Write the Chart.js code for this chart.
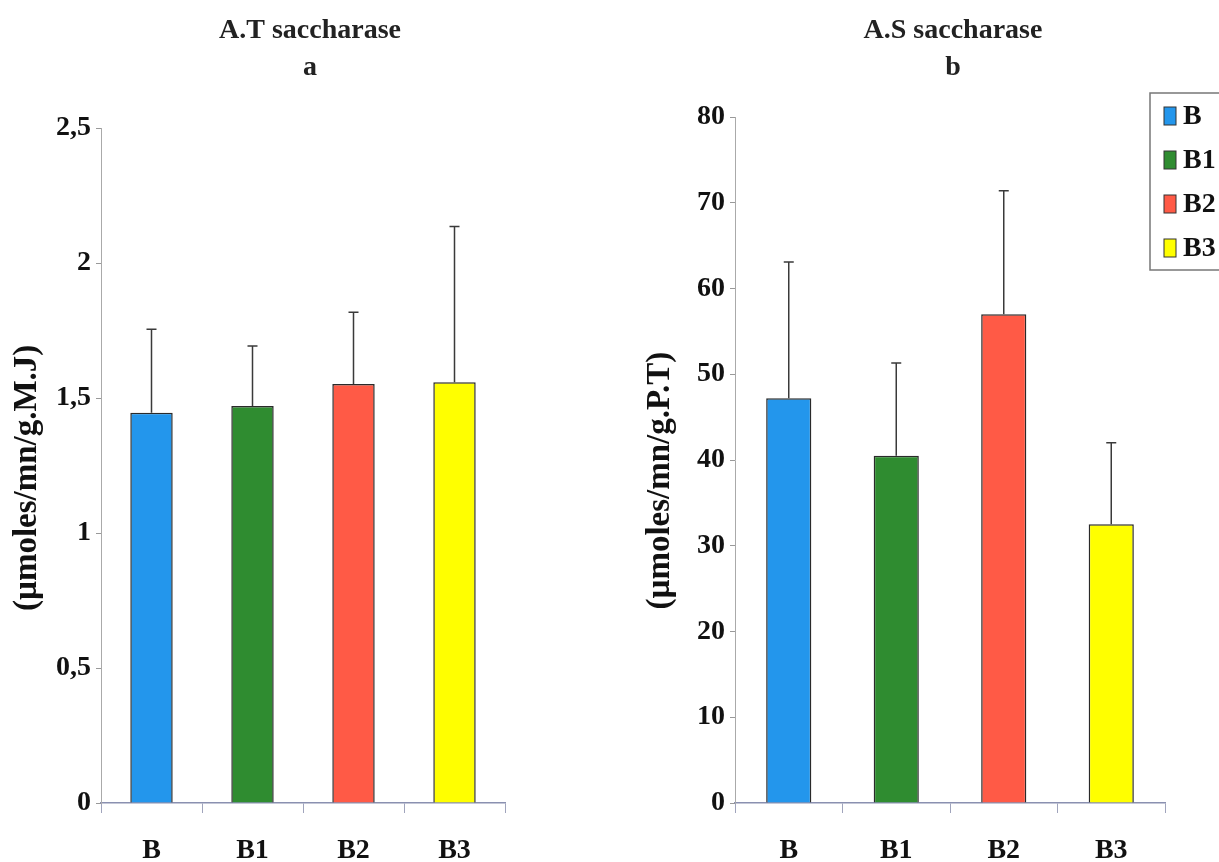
<!DOCTYPE html>
<html>
<head>
<meta charset="utf-8">
<script src="https://cdn.jsdelivr.net/npm/chart.js@4.4.1/dist/chart.umd.min.js"></script>
<style>
  html, body { margin: 0; padding: 0; background: #fff; }
  #wrap { position: relative; width: 1219px; height: 862px; overflow: hidden; }
  .panel { position: absolute; top: 0; height: 862px; }
  #panelA { left: 0; width: 610px; }
  #panelB { left: 610px; width: 609px; }
</style>
</head>
<body>
<div id="wrap">
  <div class="panel" id="panelA"><canvas id="chartA"></canvas></div>
  <div class="panel" id="panelB"><canvas id="chartB"></canvas></div>
</div>
<script>
const categories = ['B', 'B1', 'B2', 'B3'];
const barColors = ['#2396ec', '#2f8c30', '#ff5a46', '#ffff00'];

// A.T saccharase (panel a)
const atValues = [1.445, 1.47, 1.552, 1.558];
const atErrors = [0.31, 0.223, 0.266, 0.577];
const atTicks = ['0', '0,5', '1', '1,5', '2', '2,5'];

// A.S saccharase (panel b)
const asValues = [47.2, 40.5, 57.0, 32.5];
const asErrors = [15.9, 10.8, 14.4, 9.5];
const asTicks = ['0', '10', '20', '30', '40', '50', '60', '70', '80'];

const serif = '"Liberation Serif", "Times New Roman", serif';
const tickFont = { family: serif, size: 28, weight: 'bold' };

// upper error bar only, like the excel original
const errorBars = {
  id: 'errorBars',
  afterDatasetsDraw(chart) {
    const ctx = chart.ctx;
    const y = chart.scales.y;
    const ds = chart.data.datasets[0];
    const meta = chart.getDatasetMeta(0);
    ctx.save();
    ctx.strokeStyle = '#3a3a3a';
    ctx.lineWidth = 1.5;
    meta.data.forEach((bar, i) => {
      const top = y.getPixelForValue(ds.data[i] + ds.errors[i]);
      ctx.beginPath();
      ctx.moveTo(bar.x, bar.y);
      ctx.lineTo(bar.x, top);
      ctx.moveTo(bar.x - 5, top);
      ctx.lineTo(bar.x + 5, top);
      ctx.stroke();
    });
    ctx.restore();
  }
};

function header(title, sub, shift) {
  return {
    id: 'header',
    afterDraw(chart) {
      const { ctx, chartArea } = chart;
      const cx = (chartArea.left + chartArea.right) / 2 + shift;
      ctx.save();
      ctx.font = 'bold 28px ' + serif;
      ctx.fillStyle = '#222';
      ctx.textAlign = 'center';
      ctx.textBaseline = 'alphabetic';
      ctx.fillText(title, cx, 38);
      ctx.fillText(sub, cx, 75);
      ctx.restore();
    }
  };
}

const legendBox = {
  id: 'legendBox',
  afterDraw(chart) {
    const ctx = chart.ctx;
    const left = 540, top = 93, bottom = 270;
    ctx.save();
    ctx.strokeStyle = '#777';
    ctx.lineWidth = 1.5;
    ctx.strokeRect(left, top, 120, bottom - top);
    ctx.font = 'bold 28px ' + serif;
    ctx.textBaseline = 'middle';
    ctx.textAlign = 'left';
    categories.forEach((c, i) => {
      const cy = 116 + i * 44;
      ctx.fillStyle = barColors[i];
      ctx.fillRect(554, cy - 9, 12, 18);
      ctx.strokeStyle = '#333';
      ctx.lineWidth = 1;
      ctx.strokeRect(554, cy - 9, 12, 18);
      ctx.fillStyle = '#111';
      ctx.fillText(c, 573, cy + 1);
    });
    ctx.restore();
  }
};

function makeChart(id, values, errors, tickLabels, yMax, yStep, yTitle, opts) {
  return new Chart(document.getElementById(id).getContext('2d'), {
    type: 'bar',
    data: {
      labels: categories,
      datasets: [
        {
          data: values,
          errors: errors,
          backgroundColor: barColors,
          borderColor: '#2a2a2a',
          borderWidth: 1.5,
          categoryPercentage: 1,
          barPercentage: 0.42,
        },
      ],
    },
    options: {
      responsive: true,
      maintainAspectRatio: false,
      animation: false,
      layout: { padding: { top: opts.top, right: opts.right, left: 0, bottom: 0 } },
      plugins: { legend: { display: false }, tooltip: { enabled: false } },
      scales: {
        x: {
          grid: { offset: true, drawOnChartArea: false, tickLength: 10, color: '#a0a4bc', lineWidth: 1 },
          border: { color: '#8a90b0', width: 1.5 },
          ticks: { font: tickFont, color: '#111', padding: 21 },
          afterFit: (s) => { s.height = 59; },
        },
        y: {
          min: 0,
          max: yMax,
          ticks: {
            stepSize: yStep,
            font: tickFont,
            color: '#111',
            padding: 5,
            callback: (v, i) => tickLabels[i],
          },
          grid: { drawOnChartArea: false, tickLength: 5, color: '#999' },
          border: { color: '#aaa', width: 1 },
          title: {
            display: true,
            text: yTitle,
            font: { family: serif, size: 33, weight: 'bold' },
            color: '#111',
            padding: { top: opts.titlePad, bottom: 0 },
          },
          afterFit: (s) => { s.width = opts.axisWidth; },
        },
      },
    },
    plugins: opts.plugins,
  });
}

makeChart('chartA', atValues, atErrors, atTicks, 2.5, 0.5, '(\u00b5moles/mn/g.M.J)\u00a0\u00a0\u00a0', {
  top: 128, right: 105, axisWidth: 101, titlePad: 8,
  plugins: [errorBars, header('A.T saccharase', 'a', 7)],
});

makeChart('chartB', asValues, asErrors, asTicks, 80, 10, '(\u00b5moles/mn/g.P.T)\u00a0\u00a0\u00a0\u00a0\u00a0', {
  top: 117, right: 54, axisWidth: 125, titlePad: 31,
  plugins: [errorBars, header('A.S saccharase', 'b', 3), legendBox],
});
</script>
</body>
</html>
